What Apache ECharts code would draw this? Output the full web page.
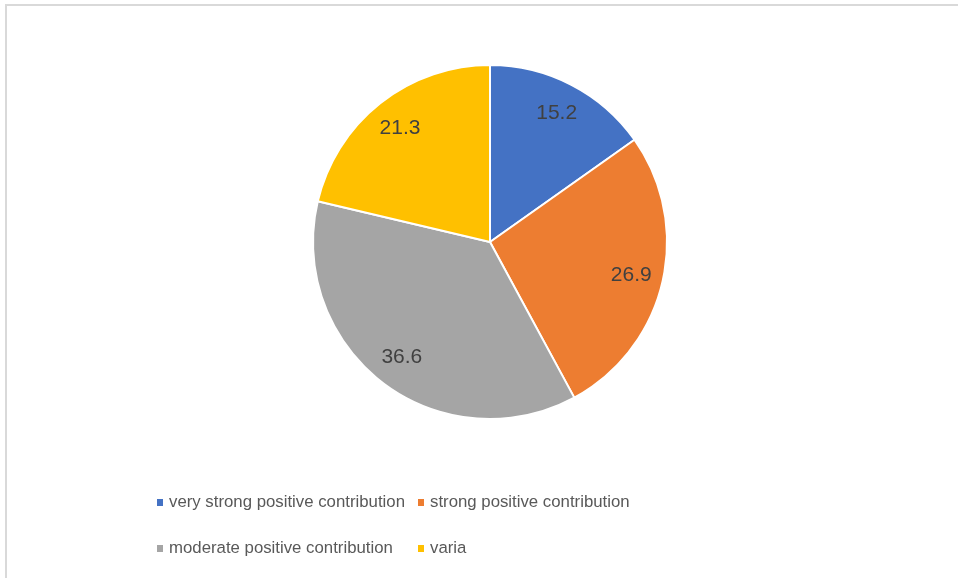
<!DOCTYPE html>
<html>
<head>
<meta charset="utf-8">
<script src="https://cdn.jsdelivr.net/npm/echarts@6/dist/echarts.min.js"></script>
<style>
html,body{margin:0;padding:0;background:#fff;}
#frame{position:absolute;left:5px;top:4px;width:953px;height:574px;border-top:2px solid #d9d9d9;border-left:2px solid #d9d9d9;box-sizing:border-box;}
#chart{position:absolute;left:0;top:0;width:958px;height:578px;}
</style>
</head>
<body>
<div id="frame"></div>
<div id="chart"></div>
<script>
const categories = ['very strong positive contribution', 'strong positive contribution', 'moderate positive contribution', 'varia'];
const values = [15.2, 26.9, 36.6, 21.3];
const colors = ['#4472c4', '#ed7d31', '#a5a5a5', '#ffc000'];

const FONT = '"Liberation Sans", Arial, sans-serif';
const data = categories.map((c, i) => ({ name: c, value: values[i], itemStyle: { color: colors[i] } }));

const chart = echarts.init(document.getElementById('chart'));
const legendCommon = {
  orient: 'vertical', itemWidth: 8, itemHeight: 9, itemGap: 29, icon: 'rect',
  textStyle: { fontFamily: FONT, fontSize: 16.8, color: '#595959', lineHeight: 17, padding: [0, 0, 0, 0] }
};
chart.setOption({
  animation: false,
  legend: [
    Object.assign({ left: 150, top: 489, data: [categories[0], categories[2]] }, legendCommon),
    Object.assign({ left: 411, top: 489, data: [categories[1], categories[3]] }, legendCommon)
  ],
  series: [
    {
      type: 'pie', center: [490, 242], radius: 177, startAngle: 90, clockwise: true,
      data: data,
      itemStyle: { borderColor: '#fff', borderWidth: 2 },
      label: { show: false }, labelLine: { show: false }, silent: true
    },
    {
      type: 'pie', center: [490, 242], radius: [107, 177], startAngle: 90, clockwise: true,
      data: categories.map((c, i) => ({ name: c, value: values[i] })),
      itemStyle: { color: 'rgba(0,0,0,0)', borderWidth: 0 },
      label: { show: true, position: 'inside', formatter: '{c}', fontFamily: FONT, fontSize: 21, color: '#404040' },
      labelLine: { show: false }, silent: true
    }
  ]
});
</script>
</body>
</html>
